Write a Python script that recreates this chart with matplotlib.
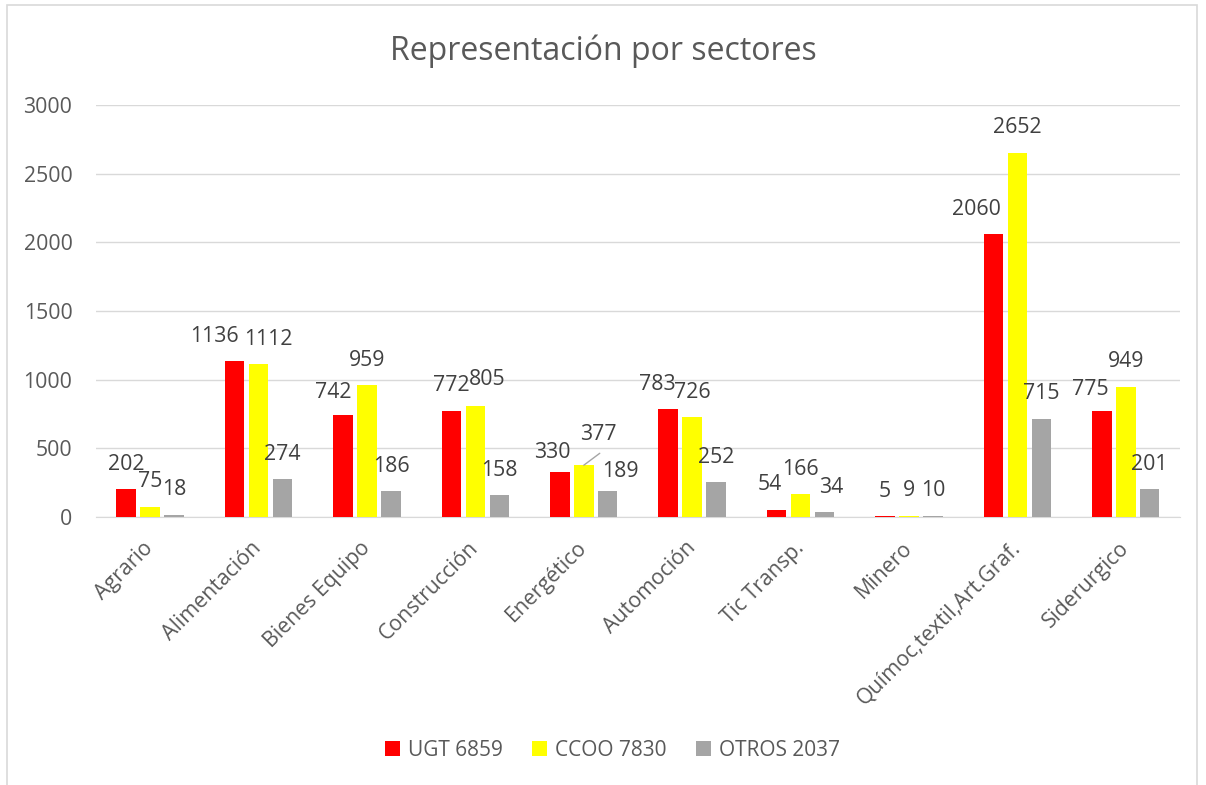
import numpy as np
import matplotlib
matplotlib.use("Agg")
import matplotlib.pyplot as plt
from matplotlib.patches import Rectangle

plt.rcParams['font.family'] = ['Open Sans', 'DejaVu Sans']

# datos
sectores = ["Agrario", "Alimentación", "Bienes Equipo", "Construcción", "Energético",
            "Automoción", "Tic Transp.", "Minero", "Químoc,textil,Art.Graf.", "Siderurgico"]
ugt = [202, 1136, 742, 772, 330, 783, 54, 5, 2060, 775]
ccoo = [75, 1112, 959, 805, 377, 726, 166, 9, 2652, 949]
otros = [18, 274, 186, 158, 189, 252, 34, 10, 715, 201]
nombres = ["UGT 6859", "CCOO 7830", "OTROS 2037"]
colores = ["#FF0000", "#FFFF00", "#A5A5A5"]

# etiquetas movidas a mano (serie, sector): (dx, dy) en px
ajustes = {(0, 1): (-20, 0), (1, 1): (10, 0),
           (0, 2): (-10, -2),
           (1, 3): (12, 2),
           (0, 4): (-8, -6), (1, 4): (15, 6), (2, 4): (13, -5),
           (0, 5): (-11, 0),
           (0, 6): (-7, 0), (2, 6): (7, 0),
           (0, 8): (-17, 0),
           (0, 9): (-11, -4)}

gris_txt = "#595959"
fs = 15.3

fig = plt.figure(figsize=(12.06, 7.85), dpi=100)
ax = fig.add_axes([0.0796, 0.3414, 0.8988, 0.5248])

x = np.arange(len(sectores))
ancho = 0.18
desp = 0.221
series = [ugt, ccoo, otros]
for s, vals in enumerate(series):
    xs = x + (s - 1) * desp
    ax.bar(xs, vals, width=ancho, color=colores[s], label=nombres[s], zorder=3)
    for i, v in enumerate(vals):
        dx, dy = ajustes.get((s, i), (0, 0))
        off = (dx * 0.72, (25 + dy) * 0.72)
        ax.annotate(str(v), xy=(xs[i], v), xytext=off, textcoords='offset points',
                    ha='center', va='center', fontsize=fs, color="#404040")
        if (s, i) == (1, 4):
            # linea guia de la etiqueta 377
            ax.annotate('', xy=(xs[i], v), xytext=(11.5, 8.6), textcoords='offset points',
                        arrowprops=dict(arrowstyle='-', color='#A5A5A5', lw=1,
                                        shrinkA=0, shrinkB=0))

ax.set_xlim(-0.5, len(sectores) - 0.5)
ax.set_ylim(0, 3000)
ax.set_yticks(np.arange(0, 3001, 500))
ax.grid(axis='y', color='#D9D9D9', lw=1, zorder=0)
for sp in ['top', 'right', 'left']:
    ax.spines[sp].set_visible(False)
ax.spines['bottom'].set_color('#D9D9D9')
ax.tick_params(axis='both', length=0, labelsize=fs, labelcolor=gris_txt)
ax.tick_params(axis='y', pad=17)
ax.set_xticks(x)
ax.set_xticklabels(sectores, rotation=45, ha='right', va='center',
                   rotation_mode='anchor')
ax.tick_params(axis='x', pad=20)

fig.text(0.5, 1 - 51 / 785, "Representación por sectores", ha='center', va='center',
         fontsize=23, color=gris_txt)

fig.legend(loc='center', bbox_to_anchor=(0.508, 1 - 750 / 785), ncol=3, frameon=False,
           fontsize=15, labelcolor=gris_txt, handlelength=0.7, handleheight=0.7,
           handletextpad=0.4, columnspacing=1.4)

fig.patches.append(Rectangle((7 / 1206, -0.01), 1190 / 1206, 1 - 5 / 785 + 0.01,
                             transform=fig.transFigure, fill=False,
                             edgecolor='#D9D9D9', lw=1.2))

fig.savefig("out.png", dpi=100)
